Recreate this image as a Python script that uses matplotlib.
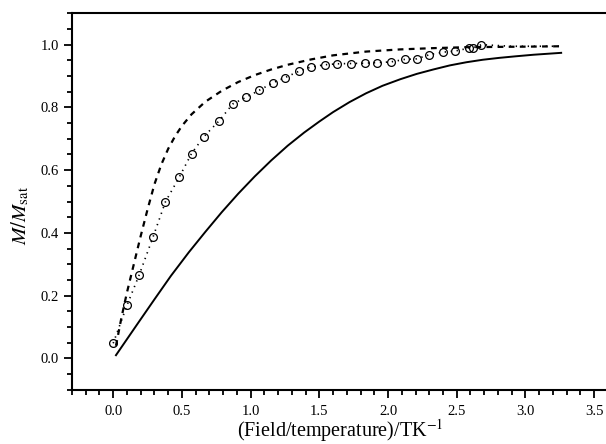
import matplotlib
matplotlib.use("Agg")
import matplotlib.pyplot as plt
from matplotlib.ticker import MultipleLocator, FormatStrFormatter

plt.rcParams["font.family"] = ["Liberation Serif", "DejaVu Serif"]
plt.rcParams["mathtext.fontset"] = "stix"

# Solid curve
solid_x = [0.02, 0.10, 0.18, 0.30, 0.42, 0.55, 0.67, 0.79, 0.91, 1.03, 1.15, 1.27,
           1.39, 1.50, 1.60, 1.72, 1.84, 1.96, 2.09, 2.21, 2.33, 2.45, 2.57, 2.69,
           2.81, 2.93, 3.06, 3.16, 3.26]
solid_y = [0.01, 0.061, 0.112, 0.188, 0.263, 0.338, 0.403, 0.466, 0.525, 0.580, 0.631, 0.678,
           0.720, 0.755, 0.785, 0.817, 0.845, 0.869, 0.890, 0.907, 0.921, 0.934, 0.944, 0.952,
           0.958, 0.963, 0.968, 0.971, 0.974]

# Dashed curve
dashed_x = [0.02, 0.06, 0.10, 0.15, 0.20, 0.25, 0.30, 0.35, 0.40, 0.45, 0.50, 0.57,
            0.67, 0.79, 0.91, 1.03, 1.15, 1.27, 1.44, 1.60, 1.84, 2.09, 2.33, 2.57,
            2.81, 3.06, 3.26]
dashed_y = [0.04, 0.13, 0.21, 0.30, 0.39, 0.475, 0.555, 0.618, 0.668, 0.708, 0.741, 0.778,
            0.818, 0.853, 0.881, 0.903, 0.921, 0.936, 0.953, 0.966, 0.978, 0.985, 0.989, 0.992,
            0.993, 0.994, 0.995]

# Measured points (circles)
meas_x = [0.00, 0.10, 0.19, 0.29, 0.38, 0.48, 0.57, 0.66, 0.77, 0.87, 0.97, 1.06,
          1.16, 1.25, 1.35, 1.44, 1.54, 1.63, 1.73, 1.83, 1.92, 2.02, 2.12, 2.21,
          2.30, 2.40, 2.49, 2.59, 2.62, 2.68]
meas_y = [0.048, 0.169, 0.267, 0.387, 0.499, 0.577, 0.653, 0.707, 0.757, 0.811, 0.833, 0.854,
          0.878, 0.895, 0.915, 0.929, 0.936, 0.939, 0.940, 0.941, 0.943, 0.945, 0.953, 0.955,
          0.968, 0.976, 0.980, 0.989, 0.990, 1.000]

# Dotted line runs through the points and on to the end of the range
dotted_x = meas_x + [2.90, 3.10, 3.26]
dotted_y = meas_y + [0.995, 0.995, 0.995]

fig = plt.figure(figsize=(6.06, 4.44), dpi=100)
ax = fig.add_axes([0.1188, 0.1223, 0.8843, 0.8477])

ax.plot(solid_x, solid_y, "-", color="black", lw=1.4)
ax.plot(dashed_x, dashed_y, color="black", lw=1.6, dashes=(2.6, 2.4))
ax.plot(dotted_x, dotted_y, color="black", lw=1.2, dashes=(0.8, 2.8))
ax.plot(meas_x, meas_y, "o", ms=5.6, mfc="none", mec="black", mew=0.9)

ax.set_xlim(-0.3, 3.6)
ax.set_ylim(-0.1, 1.1)
ax.xaxis.set_major_locator(MultipleLocator(0.5))
ax.xaxis.set_minor_locator(MultipleLocator(0.1))
ax.yaxis.set_major_locator(MultipleLocator(0.2))
ax.yaxis.set_minor_locator(MultipleLocator(0.05))
ax.xaxis.set_major_formatter(FormatStrFormatter("%.1f"))
ax.yaxis.set_major_formatter(FormatStrFormatter("%.1f"))

ax.tick_params(which="both", direction="out", width=1.3, labelsize=10.5,
               top=False, right=False)
ax.tick_params(which="major", length=6)
ax.tick_params(which="minor", length=3.5)
ax.tick_params(axis="x", pad=5)
ax.tick_params(axis="y", pad=3.5)

for side in ["left", "bottom", "top"]:
    ax.spines[side].set_linewidth(1.5)
ax.spines["right"].set_visible(False)

ax.set_xlabel(r"(Field/temperature)/TK$^{-1}$", fontsize=14.5, labelpad=-1)
ax.set_ylabel(r"$M/M_{\mathrm{sat}}$", fontsize=15)
ax.yaxis.set_label_coords(-0.076, 0.463)

fig.savefig("out.png", dpi=100)
plt.close(fig)
